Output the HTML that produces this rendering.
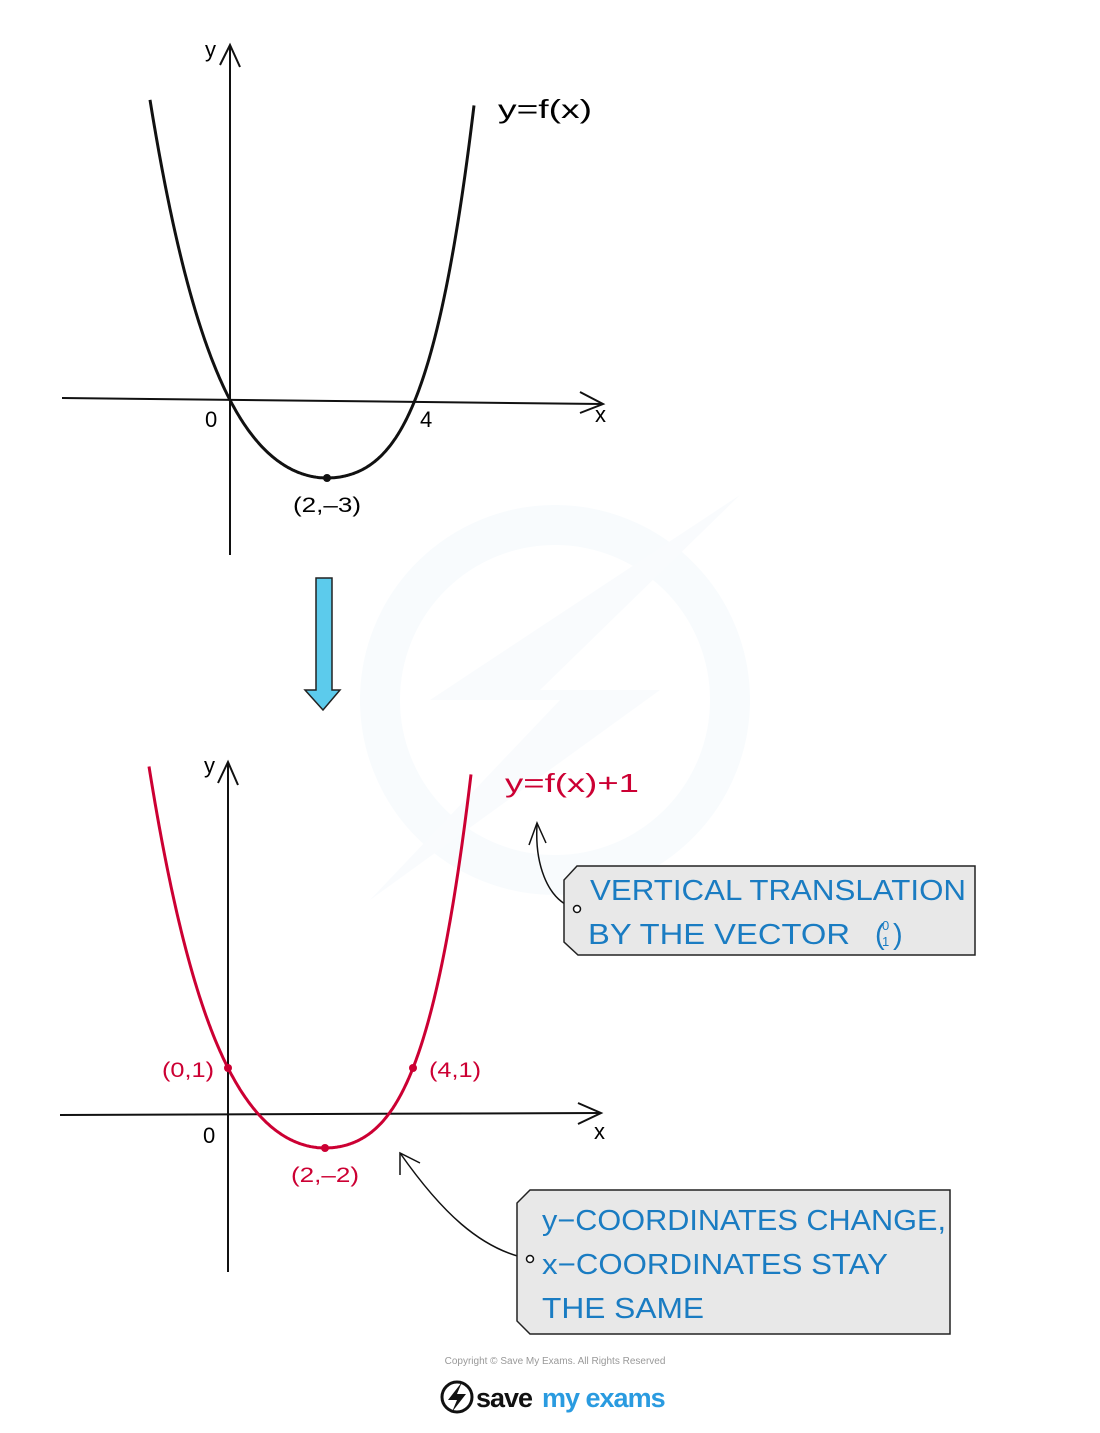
<!DOCTYPE html>
<html><head><meta charset="utf-8"><style>
body{margin:0;background:#fff;}
svg text{font-family:"Liberation Sans",sans-serif;}
</style></head><body>
<svg id="s" width="1100" height="1428" viewBox="0 0 1100 1428" xmlns="http://www.w3.org/2000/svg">
<!-- watermark -->
<circle cx="555" cy="700" r="175" fill="none" stroke="#f8fbfd" stroke-width="40"/>
<polygon points="740,495 430,700 560,700 370,900 660,690 540,690" fill="#f9fbfd"/>

<!-- top graph -->
<line x1="230" y1="45" x2="230" y2="555" stroke="#111" stroke-width="2"/>
<polyline points="220,65 230,45 240,67" fill="none" stroke="#111" stroke-width="2"/>
<line x1="62" y1="398" x2="602" y2="404" stroke="#111" stroke-width="2"/>
<polyline points="580,392 603,404 580,413" fill="none" stroke="#111" stroke-width="2"/>
<path id="c1" fill="none" stroke="#111" stroke-width="3"/>
<circle cx="327" cy="478" r="4" fill="#111"/>
<text x="205" y="57" font-size="22">y</text>
<text x="595" y="422" font-size="22">x</text>
<text x="205" y="427" font-size="22">0</text>
<text x="420" y="427" font-size="22">4</text>
<text x="293" y="512" font-size="21" textLength="68" lengthAdjust="spacingAndGlyphs">(2,–3)</text>
<text x="498" y="118" font-size="26" textLength="94" lengthAdjust="spacingAndGlyphs">y=f(x)</text>

<!-- blue arrow -->
<polygon points="316,578 332,578 332,690 340,690 323,710 305,690 316,690" fill="#5ccbec" stroke="#222" stroke-width="1.5"/>

<!-- bottom graph -->
<line x1="228" y1="762" x2="228" y2="1272" stroke="#111" stroke-width="2"/>
<polyline points="218,783 228,762 238,785" fill="none" stroke="#111" stroke-width="2"/>
<line x1="60" y1="1115" x2="600" y2="1113" stroke="#111" stroke-width="2"/>
<polyline points="578,1103 601,1113 578,1124" fill="none" stroke="#111" stroke-width="2"/>
<path id="c2" fill="none" stroke="#cc0033" stroke-width="3"/>
<circle cx="325" cy="1148" r="4" fill="#cc0033"/>
<circle cx="228" cy="1068" r="4" fill="#cc0033"/>
<circle cx="413" cy="1068" r="4" fill="#cc0033"/>
<text x="204" y="773" font-size="22">y</text>
<text x="594" y="1139" font-size="22">x</text>
<text x="203" y="1143" font-size="22">0</text>
<g fill="#cc0033" font-size="21">
<text x="162" y="1077" textLength="52" lengthAdjust="spacingAndGlyphs">(0,1)</text>
<text x="429" y="1077" textLength="52" lengthAdjust="spacingAndGlyphs">(4,1)</text>
<text x="291" y="1182" textLength="68" lengthAdjust="spacingAndGlyphs">(2,–2)</text>
<text x="505" y="792" font-size="26" textLength="134" lengthAdjust="spacingAndGlyphs">y=f(x)+1</text>
</g>

<!-- box 1 -->
<path d="M576,909 C545,900 535,860 537,825" fill="none" stroke="#111" stroke-width="1.5"/>
<polyline points="529,845 537,823 546,843" fill="none" stroke="#111" stroke-width="1.5"/>
<polygon points="577,866 975,866 975,955 578,955 564,942 564,880" fill="#e8e8e8" stroke="#222" stroke-width="1.5"/>
<circle cx="577" cy="909" r="3.5" fill="#fff" stroke="#111" stroke-width="1.5"/>
<g fill="#1a7cc2" font-size="29">
<text x="590" y="900" textLength="376" lengthAdjust="spacingAndGlyphs">VERTICAL  TRANSLATION</text>
<text x="588" y="944" textLength="262" lengthAdjust="spacingAndGlyphs">BY  THE  VECTOR</text>
<text x="875" y="944">(</text><text x="893" y="944">)</text>
<text x="882" y="930" font-size="13">0</text><text x="882" y="946" font-size="13">1</text>
</g>

<!-- box 2 -->
<path d="M530,1259 C480,1250 440,1210 400,1153" fill="none" stroke="#111" stroke-width="1.5"/>
<polyline points="400,1175 400,1153 420,1163" fill="none" stroke="#111" stroke-width="1.5"/>
<polygon points="530,1190 950,1190 950,1334 530,1334 517,1321 517,1203" fill="#e8e8e8" stroke="#222" stroke-width="1.5"/>
<circle cx="530" cy="1259" r="3.5" fill="#fff" stroke="#111" stroke-width="1.5"/>
<g fill="#1a7cc2" font-size="29">
<text x="542" y="1230" textLength="404" lengthAdjust="spacingAndGlyphs">y−COORDINATES  CHANGE,</text>
<text x="542" y="1274" textLength="346" lengthAdjust="spacingAndGlyphs">x−COORDINATES  STAY</text>
<text x="542" y="1318" textLength="162" lengthAdjust="spacingAndGlyphs">THE  SAME</text>
</g>

<!-- footer -->
<text x="555" y="1364" font-size="10" fill="#999" text-anchor="middle">Copyright © Save My Exams. All Rights Reserved</text>
<circle cx="457" cy="1397" r="15" fill="none" stroke="#111" stroke-width="3"/>
<polygon points="462,1382 448,1400 457,1400 452,1412 466,1394 457,1394" fill="#111"/>
<text x="476" y="1407" font-size="27" font-weight="bold" fill="#111" letter-spacing="-1">save</text>
<text x="542" y="1407" font-size="27" font-weight="bold" fill="#2a9be0" letter-spacing="-1">my exams</text>
</svg>
<script>
function curve(id,cx,cy,x0,x1,aL,bL,aR,bR){
 var p=[];
 for(var x=x0;x<=x1;x+=1){var d=x-cx;var a=d<0?aL:aR,b=d<0?bL:bR;p.push(x+","+(cy-a*d*d-b*d*d*d*d).toFixed(1));}
 document.getElementById(id).setAttribute("d","M"+p.join(" L"));
}
curve("c1",327,478,150,474,0.006668,1.724e-7,0.00607,5.17e-7);
curve("c2",325,1148,149,471,0.006668*80/78,1.724e-7*80/78,0.00607*80/78,5.17e-7*80/78);
</script>
</body></html>
